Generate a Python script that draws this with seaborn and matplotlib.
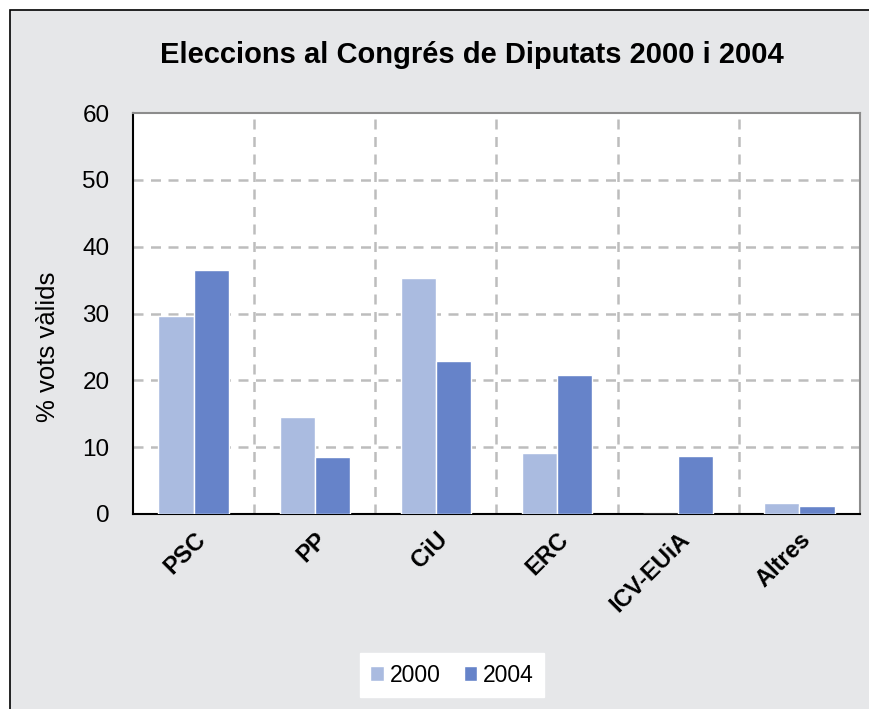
import matplotlib
matplotlib.use("Agg")
import matplotlib.pyplot as plt
import seaborn as sns
import pandas as pd
from matplotlib.patches import Rectangle

categories = ["PSC", "PP", "CiU", "ERC", "ICV-EUiA", "Altres"]
years = ["2000", "2004"]
values_2000 = [29.6, 14.5, 35.3, 9.1, 0.0, 1.6]
values_2004 = [36.5, 8.5, 22.9, 20.8, 8.7, 1.2]
yticks = [0, 10, 20, 30, 40, 50, 60]

df = pd.DataFrame({
    "partit": categories * 2,
    "any": [years[0]] * len(categories) + [years[1]] * len(categories),
    "vots": values_2000 + values_2004,
})

sns.set_theme(style="white")
plt.rcParams["font.family"] = ["Liberation Sans", "DejaVu Sans"]
plt.rcParams["text.color"] = "black"
plt.rcParams["axes.labelcolor"] = "black"
plt.rcParams["xtick.color"] = "black"
plt.rcParams["ytick.color"] = "black"

fig = plt.figure(figsize=(8.7, 7.09), dpi=100, facecolor="white")
bg = Rectangle((10 / 870, -0.01), 1, 1 - 10 / 709 + 0.01, transform=fig.transFigure,
               facecolor="#E6E7E9", edgecolor="black", linewidth=1.2, zorder=-10)
fig.patches.append(bg)

ax = fig.add_axes([133 / 870, 1 - 514 / 709, (860 - 133) / 870, (514 - 113) / 709])
ax.set_facecolor("white")

palette = {"2000": "#AABBE0", "2004": "#6683C9"}
sns.barplot(data=df, x="partit", y="vots", hue="any", palette=palette, width=0.58,
            dodge=True, saturation=1, ax=ax, legend=True, zorder=3)

ax.set_ylim(0, 60)
ax.set_xlim(-0.5, len(categories) - 0.5)
ax.set_yticks(yticks)
ax.set_yticklabels([str(t) for t in yticks], fontsize=17.5)
for y in yticks[1:-1]:
    ax.axhline(y, color="#BDBDBD", linestyle=(0, (4, 3)), linewidth=1.8, zorder=1)
for x in range(len(categories) - 1):
    ax.axvline(x + 0.5, color="#BDBDBD", linestyle=(0, (4, 3)), linewidth=1.8, zorder=1)

ax.set_xticks([i - 0.5 for i in range(len(categories) + 1)], minor=False)
ax.set_xticklabels([])
ax.set_xticks(range(len(categories)), minor=True)
ax.set_xticklabels(categories, minor=True, rotation=45, ha="right", rotation_mode="anchor",
                   fontsize=17, fontweight="bold")
ax.tick_params(axis="x", which="minor", length=0, pad=10)
ax.tick_params(axis="x", which="major", length=6, width=1.2, color="black", direction="out")
ax.tick_params(axis="y", length=6, width=1.2, color="black", direction="out", pad=11)

for s in ["left", "bottom"]:
    ax.spines[s].set_color("black")
    ax.spines[s].set_linewidth(1.5)
for s in ["top", "right"]:
    ax.spines[s].set_color("#8C8C8C")
    ax.spines[s].set_linewidth(1.5)

ax.set_xlabel("")
ax.set_ylabel("% vots vàlids", fontsize=18.5)
ax.yaxis.set_label_coords(-0.100, 0.416)

fig.text(472 / 870, 1 - 55 / 709, "Eleccions al Congrés de Diputats 2000 i 2004",
         ha="center", va="center", fontsize=21, fontweight="bold")

handles, labels = ax.get_legend_handles_labels()
ax.get_legend().remove()
leg = fig.legend(handles, labels, loc="center", bbox_to_anchor=(452 / 870, 1 - 675 / 709),
                 ncol=2, frameon=True, fontsize=16.5, handlelength=0.6, handleheight=0.6,
                 handletextpad=0.25, columnspacing=1.0, borderpad=0.45, fancybox=False)
leg.get_frame().set_facecolor("white")
leg.get_frame().set_edgecolor("white")
leg.get_frame().set_alpha(1)

fig.savefig("out.png", dpi=100, facecolor=fig.get_facecolor())
